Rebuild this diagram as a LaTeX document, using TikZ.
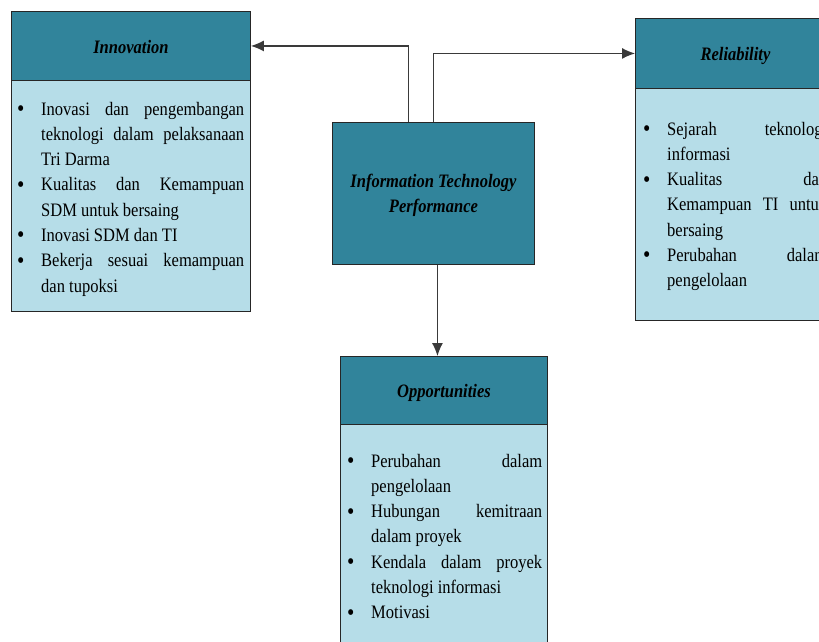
\documentclass[tikz,border=0pt]{standalone}
\usepackage{fontspec}
\setmainfont{Liberation Serif}[FakeStretch=0.87]
\usetikzlibrary{arrows.meta}
\definecolor{hdr}{HTML}{31849B}
\definecolor{bdy}{HTML}{B6DDE8}
\definecolor{edgec}{HTML}{262626}
\definecolor{connc}{HTML}{3A3A3A}
\newcommand{\bitem}[1]{\hangindent=24pt\hangafter=1\noindent\makebox[24pt][l]{\raisebox{-1.5pt}{\fontsize{24}{25}\selectfont\textbullet}}#1\par}
\tikzset{
  hdrbox/.style={draw=edgec, fill=hdr, line width=0.9pt, inner sep=0pt, anchor=north west},
  bdybox/.style={draw=edgec, fill=bdy, line width=0.9pt, inner sep=0pt, anchor=north west},
  ttl/.style={font=\fontsize{19}{25}\selectfont\bfseries\itshape, inner sep=0pt, anchor=base},
  lst/.style={font=\fontsize{19}{25.3}\selectfont, inner sep=0pt, anchor=base west, align=justify,
     execute at begin node={\tolerance=10000\hyphenpenalty=10000\parindent=0pt}},
  conn/.style={draw=connc, line width=1.2pt, -{Latex[length=13pt,width=11pt]}}
}
\begin{document}
\begin{tikzpicture}[x=1pt,y=-1pt]
\useasboundingbox (0,0) rectangle (819,642);
\clip (0,0) rectangle (819,642);
\fill[white] (0,0) rectangle (819,642);
% Innovation
\node[bdybox, minimum width=239pt, minimum height=231pt] (innb) at (11,80) {};
\node[hdrbox, minimum width=239pt, minimum height=69pt] (inn) at (11,11) {};
\node[ttl] (innt) at ([yshift=-7.5pt]inn.center) {Innovation};
\node[lst, text width=227pt] (innl) at (17,115) {%
\bitem{Inovasi dan pengembangan\linebreak teknologi dalam pelaksanaan\linebreak Tri Darma}%
\bitem{Kualitas dan Kemampuan\linebreak SDM untuk bersaing}%
\bitem{Inovasi SDM dan TI}%
\bitem{Bekerja sesuai kemampuan\linebreak dan tupoksi}};
% Reliability
\node[bdybox, minimum width=200pt, minimum height=232pt] (relb) at (635,88) {};
\node[hdrbox, minimum width=200pt, minimum height=70pt] (rel) at (635,18) {};
\node[ttl] (relt) at ([yshift=-7pt]rel.center) {Reliability};
\node[lst, text width=184pt] (rell) at (643,135) {%
\bitem{Sejarah teknologi\linebreak informasi}%
\bitem{Kualitas dan\linebreak Kemampuan TI untuk\linebreak bersaing}%
\bitem{Perubahan dalam\linebreak pengelolaan}};
% Centre
\node[hdrbox, minimum width=202pt, minimum height=142pt] (ctr) at (332,122) {};
\node[ttl] (ctr1) at ([yshift=6pt]ctr.center) {Information Technology};
\node[ttl] (ctr2) at ([yshift=-19pt]ctr.center) {Performance};
% Opportunities
\node[bdybox, minimum width=207pt, minimum height=240pt] (oppb) at (340,424) {};
\node[hdrbox, minimum width=207pt, minimum height=68pt] (opp) at (340,356) {};
\node[ttl] (oppt) at ([yshift=-7pt]opp.center) {Opportunities};
\node[lst, text width=195pt] (oppl) at (347,467) {%
\bitem{Perubahan dalam\linebreak pengelolaan}%
\bitem{Hubungan kemitraan\linebreak dalam proyek}%
\bitem{Kendala dalam proyek\linebreak teknologi informasi}%
\bitem{Motivasi}};
% Connectors
\draw[conn] ([xshift=-25pt]ctr.north) |- (inn.east);
\draw[conn] (ctr.north) |- (rel.west);
\draw[conn] ([xshift=4pt]ctr.south) -- ([xshift=4pt]ctr.south |- opp.north);
\end{tikzpicture}
\end{document}
